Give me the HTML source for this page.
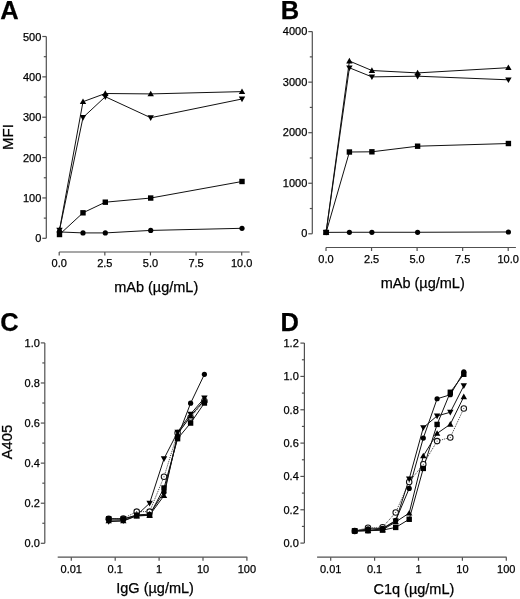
<!DOCTYPE html>
<html><head><meta charset="utf-8"><title>Figure</title>
<style>
html,body{margin:0;padding:0;background:#fff;}
body{width:520px;height:599px;overflow:hidden;}
svg{display:block;will-change:transform;}
#wrap{width:520px;height:599px;}
text{font-family:"Liberation Sans",sans-serif;fill:#000;stroke:#000;stroke-width:0.25px;}
</style></head><body>
<div id="wrap"><svg width="520" height="599" viewBox="0 0 520 599">
<rect width="520" height="599" fill="#fff"/>
<text x="0.30" y="19.00" font-size="25.5" text-anchor="start" font-weight="bold" >A</text>
<path d="M46.3 36.5V238.3" stroke="#505050" stroke-width="1.2" fill="none"/>
<path d="M42.3 238.30H46.3" stroke="#505050" stroke-width="1.2" fill="none"/>
<path d="M42.3 197.94H46.3" stroke="#505050" stroke-width="1.2" fill="none"/>
<path d="M42.3 157.58H46.3" stroke="#505050" stroke-width="1.2" fill="none"/>
<path d="M42.3 117.22H46.3" stroke="#505050" stroke-width="1.2" fill="none"/>
<path d="M42.3 76.86H46.3" stroke="#505050" stroke-width="1.2" fill="none"/>
<path d="M42.3 36.50H46.3" stroke="#505050" stroke-width="1.2" fill="none"/>
<path d="M43.8 218.12H46.3" stroke="#505050" stroke-width="1.2" fill="none"/>
<path d="M43.8 177.76H46.3" stroke="#505050" stroke-width="1.2" fill="none"/>
<path d="M43.8 137.40H46.3" stroke="#505050" stroke-width="1.2" fill="none"/>
<path d="M43.8 97.04H46.3" stroke="#505050" stroke-width="1.2" fill="none"/>
<path d="M43.8 56.68H46.3" stroke="#505050" stroke-width="1.2" fill="none"/>
<text x="41.30" y="242.40" font-size="11" text-anchor="end" font-weight="normal" >0</text>
<text x="41.30" y="202.04" font-size="11" text-anchor="end" font-weight="normal" >100</text>
<text x="41.30" y="161.68" font-size="11" text-anchor="end" font-weight="normal" >200</text>
<text x="41.30" y="121.32" font-size="11" text-anchor="end" font-weight="normal" >300</text>
<text x="41.30" y="80.96" font-size="11" text-anchor="end" font-weight="normal" >400</text>
<text x="41.30" y="40.60" font-size="11" text-anchor="end" font-weight="normal" >500</text>
<path d="M59.2 252.0H249.6" stroke="#505050" stroke-width="1.2" fill="none"/>
<path d="M59.20 252.0V255.5" stroke="#505050" stroke-width="1.2" fill="none"/>
<path d="M104.83 252.0V255.5" stroke="#505050" stroke-width="1.2" fill="none"/>
<path d="M150.45 252.0V255.5" stroke="#505050" stroke-width="1.2" fill="none"/>
<path d="M196.07 252.0V255.5" stroke="#505050" stroke-width="1.2" fill="none"/>
<path d="M241.70 252.0V255.5" stroke="#505050" stroke-width="1.2" fill="none"/>
<text x="59.20" y="267.40" font-size="11" text-anchor="middle" font-weight="normal" >0.0</text>
<text x="104.83" y="267.40" font-size="11" text-anchor="middle" font-weight="normal" >2.5</text>
<text x="150.45" y="267.40" font-size="11" text-anchor="middle" font-weight="normal" >5.0</text>
<text x="196.07" y="267.40" font-size="11" text-anchor="middle" font-weight="normal" >7.5</text>
<text x="241.70" y="267.40" font-size="11" text-anchor="middle" font-weight="normal" >10.0</text>
<text x="13.00" y="137.10" font-size="15" text-anchor="middle" font-weight="normal" transform="rotate(-90 13.0 137.1)">MFI</text>
<text x="156.20" y="292.20" font-size="14.5" text-anchor="middle" font-weight="normal" >mAb (&#181;g/mL)</text>
<path d="M59.50 231.94L83.00 232.91L105.30 232.91L150.70 230.41L242.00 228.31" stroke="#111" stroke-width="1" fill="none"/>
<path d="M59.50 234.52L83.00 212.81L105.30 202.19L150.70 198.04L242.00 181.49" stroke="#111" stroke-width="1" fill="none"/>
<path d="M59.50 230.12L83.00 117.52L105.30 96.73L150.70 117.72L242.00 98.99" stroke="#111" stroke-width="1" fill="none"/>
<path d="M59.50 229.92L83.00 101.70L105.30 93.50L150.70 93.91L242.00 91.61" stroke="#111" stroke-width="1" fill="none"/>
<circle cx="59.50" cy="231.94" r="2.60" fill="#000"/>
<circle cx="83.00" cy="232.91" r="2.60" fill="#000"/>
<circle cx="105.30" cy="232.91" r="2.60" fill="#000"/>
<circle cx="150.70" cy="230.41" r="2.60" fill="#000"/>
<circle cx="242.00" cy="228.31" r="2.60" fill="#000"/>
<rect x="56.80" y="231.82" width="5.40" height="5.40" fill="#000"/>
<rect x="80.30" y="210.11" width="5.40" height="5.40" fill="#000"/>
<rect x="102.60" y="199.49" width="5.40" height="5.40" fill="#000"/>
<rect x="148.00" y="195.34" width="5.40" height="5.40" fill="#000"/>
<rect x="239.30" y="178.79" width="5.40" height="5.40" fill="#000"/>
<path d="M59.50 233.32L62.70 227.72L56.30 227.72Z" fill="#000"/>
<path d="M83.00 120.72L86.20 115.12L79.80 115.12Z" fill="#000"/>
<path d="M105.30 99.93L108.50 94.33L102.10 94.33Z" fill="#000"/>
<path d="M150.70 120.92L153.90 115.32L147.50 115.32Z" fill="#000"/>
<path d="M242.00 102.19L245.20 96.59L238.80 96.59Z" fill="#000"/>
<path d="M59.50 226.72L62.70 232.32L56.30 232.32Z" fill="#000"/>
<path d="M83.00 98.50L86.20 104.10L79.80 104.10Z" fill="#000"/>
<path d="M105.30 90.30L108.50 95.90L102.10 95.90Z" fill="#000"/>
<path d="M150.70 90.71L153.90 96.31L147.50 96.31Z" fill="#000"/>
<path d="M242.00 88.41L245.20 94.01L238.80 94.01Z" fill="#000"/>
<text x="280.80" y="18.80" font-size="25.5" text-anchor="start" font-weight="bold" >B</text>
<path d="M312.3 31.6V233.8" stroke="#505050" stroke-width="1.2" fill="none"/>
<path d="M308.3 233.80H312.3" stroke="#505050" stroke-width="1.2" fill="none"/>
<path d="M308.3 183.25H312.3" stroke="#505050" stroke-width="1.2" fill="none"/>
<path d="M308.3 132.70H312.3" stroke="#505050" stroke-width="1.2" fill="none"/>
<path d="M308.3 82.15H312.3" stroke="#505050" stroke-width="1.2" fill="none"/>
<path d="M308.3 31.60H312.3" stroke="#505050" stroke-width="1.2" fill="none"/>
<path d="M309.8 208.53H312.3" stroke="#505050" stroke-width="1.2" fill="none"/>
<path d="M309.8 157.98H312.3" stroke="#505050" stroke-width="1.2" fill="none"/>
<path d="M309.8 107.42H312.3" stroke="#505050" stroke-width="1.2" fill="none"/>
<path d="M309.8 56.87H312.3" stroke="#505050" stroke-width="1.2" fill="none"/>
<text x="307.30" y="237.20" font-size="11" text-anchor="end" font-weight="normal" >0</text>
<text x="307.30" y="186.65" font-size="11" text-anchor="end" font-weight="normal" >1000</text>
<text x="307.30" y="136.10" font-size="11" text-anchor="end" font-weight="normal" >2000</text>
<text x="307.30" y="85.55" font-size="11" text-anchor="end" font-weight="normal" >3000</text>
<text x="307.30" y="35.00" font-size="11" text-anchor="end" font-weight="normal" >4000</text>
<path d="M326.0 247.5H515.9" stroke="#505050" stroke-width="1.2" fill="none"/>
<path d="M326.00 247.5V251.0" stroke="#505050" stroke-width="1.2" fill="none"/>
<path d="M371.55 247.5V251.0" stroke="#505050" stroke-width="1.2" fill="none"/>
<path d="M417.10 247.5V251.0" stroke="#505050" stroke-width="1.2" fill="none"/>
<path d="M462.65 247.5V251.0" stroke="#505050" stroke-width="1.2" fill="none"/>
<path d="M508.20 247.5V251.0" stroke="#505050" stroke-width="1.2" fill="none"/>
<text x="326.00" y="263.30" font-size="11" text-anchor="middle" font-weight="normal" >0.0</text>
<text x="371.55" y="263.30" font-size="11" text-anchor="middle" font-weight="normal" >2.5</text>
<text x="417.10" y="263.30" font-size="11" text-anchor="middle" font-weight="normal" >5.0</text>
<text x="462.65" y="263.30" font-size="11" text-anchor="middle" font-weight="normal" >7.5</text>
<text x="508.20" y="263.30" font-size="11" text-anchor="middle" font-weight="normal" >10.0</text>
<text x="422.70" y="288.20" font-size="14.5" text-anchor="middle" font-weight="normal" >mAb (&#181;g/mL)</text>
<path d="M326.10 232.38L349.40 232.28L371.90 232.28L417.60 232.28L508.40 231.98" stroke="#111" stroke-width="1" fill="none"/>
<path d="M326.10 232.38L349.40 152.01L371.90 151.81L417.60 146.20L508.40 143.52" stroke="#111" stroke-width="1" fill="none"/>
<path d="M326.10 232.28L349.40 67.79L371.90 76.89L417.60 76.19L508.40 79.82" stroke="#111" stroke-width="1" fill="none"/>
<path d="M326.10 232.28L349.40 61.02L371.90 70.52L417.60 72.90L508.40 67.69" stroke="#111" stroke-width="1" fill="none"/>
<circle cx="326.10" cy="232.38" r="2.60" fill="#000"/>
<circle cx="349.40" cy="232.28" r="2.60" fill="#000"/>
<circle cx="371.90" cy="232.28" r="2.60" fill="#000"/>
<circle cx="417.60" cy="232.28" r="2.60" fill="#000"/>
<circle cx="508.40" cy="231.98" r="2.60" fill="#000"/>
<rect x="323.40" y="229.68" width="5.40" height="5.40" fill="#000"/>
<rect x="346.70" y="149.31" width="5.40" height="5.40" fill="#000"/>
<rect x="369.20" y="149.11" width="5.40" height="5.40" fill="#000"/>
<rect x="414.90" y="143.50" width="5.40" height="5.40" fill="#000"/>
<rect x="505.70" y="140.82" width="5.40" height="5.40" fill="#000"/>
<path d="M326.10 235.48L329.30 229.88L322.90 229.88Z" fill="#000"/>
<path d="M349.40 70.99L352.60 65.39L346.20 65.39Z" fill="#000"/>
<path d="M371.90 80.09L375.10 74.49L368.70 74.49Z" fill="#000"/>
<path d="M417.60 79.39L420.80 73.79L414.40 73.79Z" fill="#000"/>
<path d="M508.40 83.02L511.60 77.42L505.20 77.42Z" fill="#000"/>
<path d="M326.10 229.08L329.30 234.68L322.90 234.68Z" fill="#000"/>
<path d="M349.40 57.82L352.60 63.42L346.20 63.42Z" fill="#000"/>
<path d="M371.90 67.32L375.10 72.92L368.70 72.92Z" fill="#000"/>
<path d="M417.60 69.70L420.80 75.30L414.40 75.30Z" fill="#000"/>
<path d="M508.40 64.49L511.60 70.09L505.20 70.09Z" fill="#000"/>
<text x="0.20" y="330.80" font-size="25.5" text-anchor="start" font-weight="bold" >C</text>
<path d="M44.8 342.9V543.3" stroke="#505050" stroke-width="1.2" fill="none"/>
<path d="M40.8 543.30H44.8" stroke="#505050" stroke-width="1.2" fill="none"/>
<path d="M40.8 503.22H44.8" stroke="#505050" stroke-width="1.2" fill="none"/>
<path d="M40.8 463.14H44.8" stroke="#505050" stroke-width="1.2" fill="none"/>
<path d="M40.8 423.06H44.8" stroke="#505050" stroke-width="1.2" fill="none"/>
<path d="M40.8 382.98H44.8" stroke="#505050" stroke-width="1.2" fill="none"/>
<path d="M40.8 342.90H44.8" stroke="#505050" stroke-width="1.2" fill="none"/>
<path d="M42.3 523.26H44.8" stroke="#505050" stroke-width="1.2" fill="none"/>
<path d="M42.3 483.18H44.8" stroke="#505050" stroke-width="1.2" fill="none"/>
<path d="M42.3 443.10H44.8" stroke="#505050" stroke-width="1.2" fill="none"/>
<path d="M42.3 403.02H44.8" stroke="#505050" stroke-width="1.2" fill="none"/>
<path d="M42.3 362.94H44.8" stroke="#505050" stroke-width="1.2" fill="none"/>
<text x="39.90" y="547.20" font-size="11" text-anchor="end" font-weight="normal" >0.0</text>
<text x="39.90" y="507.12" font-size="11" text-anchor="end" font-weight="normal" >0.2</text>
<text x="39.90" y="467.04" font-size="11" text-anchor="end" font-weight="normal" >0.4</text>
<text x="39.90" y="426.96" font-size="11" text-anchor="end" font-weight="normal" >0.6</text>
<text x="39.90" y="386.88" font-size="11" text-anchor="end" font-weight="normal" >0.8</text>
<text x="39.90" y="346.80" font-size="11" text-anchor="end" font-weight="normal" >1.0</text>
<path d="M57.7 557.2H247.3" stroke="#505050" stroke-width="1.2" fill="none"/>
<path d="M71.30 557.2V560.7" stroke="#505050" stroke-width="1.2" fill="none"/>
<path d="M115.20 557.2V560.7" stroke="#505050" stroke-width="1.2" fill="none"/>
<path d="M159.10 557.2V560.7" stroke="#505050" stroke-width="1.2" fill="none"/>
<path d="M203.00 557.2V560.7" stroke="#505050" stroke-width="1.2" fill="none"/>
<path d="M246.90 557.2V560.7" stroke="#505050" stroke-width="1.2" fill="none"/>
<text x="71.30" y="572.70" font-size="11" text-anchor="middle" font-weight="normal" >0.01</text>
<text x="115.20" y="572.70" font-size="11" text-anchor="middle" font-weight="normal" >0.1</text>
<text x="159.10" y="572.70" font-size="11" text-anchor="middle" font-weight="normal" >1</text>
<text x="203.00" y="572.70" font-size="11" text-anchor="middle" font-weight="normal" >10</text>
<text x="246.90" y="572.70" font-size="11" text-anchor="middle" font-weight="normal" >100</text>
<text x="12.00" y="442.00" font-size="14.8" text-anchor="middle" font-weight="normal" transform="rotate(-90 12.0 442)">A405</text>
<text x="155.10" y="593.30" font-size="14.5" text-anchor="middle" font-weight="normal" >IgG (&#181;g/mL)</text>
<path d="M108.70 518.85L123.30 518.45L136.70 511.64L149.60 511.64L164.00 476.77L177.60 433.08L190.60 417.45L204.40 401.02" stroke="#222" stroke-width="0.9" stroke-dasharray="1 1" fill="none"/>
<path d="M108.70 518.85L123.30 518.85L136.70 515.64L149.60 515.24L164.00 487.99L177.60 438.69L190.60 423.06L204.40 403.02" stroke="#111" stroke-width="1" fill="none"/>
<path d="M108.70 520.86L123.30 520.86L136.70 516.05L149.60 515.24L164.00 495.60L177.60 434.08L190.60 416.05L204.40 400.01" stroke="#111" stroke-width="1" fill="none"/>
<path d="M108.70 521.66L123.30 520.86L136.70 515.24L149.60 503.22L164.00 458.73L177.60 432.08L190.60 414.04L204.40 398.01" stroke="#111" stroke-width="1" fill="none"/>
<path d="M108.70 518.85L123.30 519.25L136.70 514.84L149.60 514.24L164.00 492.20L177.60 437.09L190.60 403.22L204.40 374.36" stroke="#111" stroke-width="1" fill="none"/>
<circle cx="108.70" cy="518.85" r="2.75" fill="#fff" stroke="#111" stroke-width="1.05"/>
<circle cx="108.70" cy="518.85" r="0.55" fill="#333"/>
<circle cx="123.30" cy="518.45" r="2.75" fill="#fff" stroke="#111" stroke-width="1.05"/>
<circle cx="123.30" cy="518.45" r="0.55" fill="#333"/>
<circle cx="136.70" cy="511.64" r="2.75" fill="#fff" stroke="#111" stroke-width="1.05"/>
<circle cx="136.70" cy="511.64" r="0.55" fill="#333"/>
<circle cx="149.60" cy="511.64" r="2.75" fill="#fff" stroke="#111" stroke-width="1.05"/>
<circle cx="149.60" cy="511.64" r="0.55" fill="#333"/>
<circle cx="164.00" cy="476.77" r="2.75" fill="#fff" stroke="#111" stroke-width="1.05"/>
<circle cx="164.00" cy="476.77" r="0.55" fill="#333"/>
<circle cx="177.60" cy="433.08" r="2.75" fill="#fff" stroke="#111" stroke-width="1.05"/>
<circle cx="177.60" cy="433.08" r="0.55" fill="#333"/>
<circle cx="190.60" cy="417.45" r="2.75" fill="#fff" stroke="#111" stroke-width="1.05"/>
<circle cx="190.60" cy="417.45" r="0.55" fill="#333"/>
<circle cx="204.40" cy="401.02" r="2.75" fill="#fff" stroke="#111" stroke-width="1.05"/>
<circle cx="204.40" cy="401.02" r="0.55" fill="#333"/>
<rect x="106.00" y="516.15" width="5.40" height="5.40" fill="#000"/>
<rect x="120.60" y="516.15" width="5.40" height="5.40" fill="#000"/>
<rect x="134.00" y="512.94" width="5.40" height="5.40" fill="#000"/>
<rect x="146.90" y="512.54" width="5.40" height="5.40" fill="#000"/>
<rect x="161.30" y="485.29" width="5.40" height="5.40" fill="#000"/>
<rect x="174.90" y="435.99" width="5.40" height="5.40" fill="#000"/>
<rect x="187.90" y="420.36" width="5.40" height="5.40" fill="#000"/>
<rect x="201.70" y="400.32" width="5.40" height="5.40" fill="#000"/>
<path d="M108.70 517.66L111.90 523.26L105.50 523.26Z" fill="#000"/>
<path d="M123.30 517.66L126.50 523.26L120.10 523.26Z" fill="#000"/>
<path d="M136.70 512.85L139.90 518.45L133.50 518.45Z" fill="#000"/>
<path d="M149.60 512.04L152.80 517.64L146.40 517.64Z" fill="#000"/>
<path d="M164.00 492.40L167.20 498.00L160.80 498.00Z" fill="#000"/>
<path d="M177.60 430.88L180.80 436.48L174.40 436.48Z" fill="#000"/>
<path d="M190.60 412.85L193.80 418.45L187.40 418.45Z" fill="#000"/>
<path d="M204.40 396.81L207.60 402.41L201.20 402.41Z" fill="#000"/>
<path d="M108.70 524.86L111.90 519.26L105.50 519.26Z" fill="#000"/>
<path d="M123.30 524.06L126.50 518.46L120.10 518.46Z" fill="#000"/>
<path d="M136.70 518.44L139.90 512.84L133.50 512.84Z" fill="#000"/>
<path d="M149.60 506.42L152.80 500.82L146.40 500.82Z" fill="#000"/>
<path d="M164.00 461.93L167.20 456.33L160.80 456.33Z" fill="#000"/>
<path d="M177.60 435.28L180.80 429.68L174.40 429.68Z" fill="#000"/>
<path d="M190.60 417.24L193.80 411.64L187.40 411.64Z" fill="#000"/>
<path d="M204.40 401.21L207.60 395.61L201.20 395.61Z" fill="#000"/>
<circle cx="108.70" cy="518.85" r="2.60" fill="#000"/>
<circle cx="123.30" cy="519.25" r="2.60" fill="#000"/>
<circle cx="136.70" cy="514.84" r="2.60" fill="#000"/>
<circle cx="149.60" cy="514.24" r="2.60" fill="#000"/>
<circle cx="164.00" cy="492.20" r="2.60" fill="#000"/>
<circle cx="177.60" cy="437.09" r="2.60" fill="#000"/>
<circle cx="190.60" cy="403.22" r="2.60" fill="#000"/>
<circle cx="204.40" cy="374.36" r="2.60" fill="#000"/>
<text x="280.40" y="330.90" font-size="25.5" text-anchor="start" font-weight="bold" >D</text>
<path d="M304.4 343.1V543.1" stroke="#505050" stroke-width="1.2" fill="none"/>
<path d="M300.4 543.10H304.4" stroke="#505050" stroke-width="1.2" fill="none"/>
<path d="M300.4 509.77H304.4" stroke="#505050" stroke-width="1.2" fill="none"/>
<path d="M300.4 476.43H304.4" stroke="#505050" stroke-width="1.2" fill="none"/>
<path d="M300.4 443.10H304.4" stroke="#505050" stroke-width="1.2" fill="none"/>
<path d="M300.4 409.77H304.4" stroke="#505050" stroke-width="1.2" fill="none"/>
<path d="M300.4 376.43H304.4" stroke="#505050" stroke-width="1.2" fill="none"/>
<path d="M300.4 343.10H304.4" stroke="#505050" stroke-width="1.2" fill="none"/>
<path d="M301.9 526.43H304.4" stroke="#505050" stroke-width="1.2" fill="none"/>
<path d="M301.9 493.10H304.4" stroke="#505050" stroke-width="1.2" fill="none"/>
<path d="M301.9 459.77H304.4" stroke="#505050" stroke-width="1.2" fill="none"/>
<path d="M301.9 426.43H304.4" stroke="#505050" stroke-width="1.2" fill="none"/>
<path d="M301.9 393.10H304.4" stroke="#505050" stroke-width="1.2" fill="none"/>
<path d="M301.9 359.77H304.4" stroke="#505050" stroke-width="1.2" fill="none"/>
<text x="298.80" y="547.00" font-size="11" text-anchor="end" font-weight="normal" >0.0</text>
<text x="298.80" y="513.67" font-size="11" text-anchor="end" font-weight="normal" >0.2</text>
<text x="298.80" y="480.33" font-size="11" text-anchor="end" font-weight="normal" >0.4</text>
<text x="298.80" y="447.00" font-size="11" text-anchor="end" font-weight="normal" >0.6</text>
<text x="298.80" y="413.67" font-size="11" text-anchor="end" font-weight="normal" >0.8</text>
<text x="298.80" y="380.33" font-size="11" text-anchor="end" font-weight="normal" >1.0</text>
<text x="298.80" y="347.00" font-size="11" text-anchor="end" font-weight="normal" >1.2</text>
<path d="M317.1 557.2H506.6" stroke="#505050" stroke-width="1.2" fill="none"/>
<path d="M330.70 557.2V560.7" stroke="#505050" stroke-width="1.2" fill="none"/>
<path d="M374.60 557.2V560.7" stroke="#505050" stroke-width="1.2" fill="none"/>
<path d="M418.50 557.2V560.7" stroke="#505050" stroke-width="1.2" fill="none"/>
<path d="M462.40 557.2V560.7" stroke="#505050" stroke-width="1.2" fill="none"/>
<path d="M506.30 557.2V560.7" stroke="#505050" stroke-width="1.2" fill="none"/>
<text x="330.70" y="572.70" font-size="11" text-anchor="middle" font-weight="normal" >0.01</text>
<text x="374.60" y="572.70" font-size="11" text-anchor="middle" font-weight="normal" >0.1</text>
<text x="418.50" y="572.70" font-size="11" text-anchor="middle" font-weight="normal" >1</text>
<text x="462.40" y="572.70" font-size="11" text-anchor="middle" font-weight="normal" >10</text>
<text x="506.30" y="572.70" font-size="11" text-anchor="middle" font-weight="normal" >100</text>
<text x="413.90" y="593.60" font-size="14.5" text-anchor="middle" font-weight="normal" >C1q (&#181;g/mL)</text>
<path d="M354.70 530.93L368.00 527.77L382.60 527.27L395.70 512.43L409.20 481.93L423.30 464.27L437.10 441.10L450.30 437.43L463.80 408.43" stroke="#222" stroke-width="0.9" stroke-dasharray="1 1" fill="none"/>
<path d="M354.70 530.93L368.00 530.60L382.60 529.77L395.70 521.93L409.20 513.10L423.30 455.93L437.10 433.43L450.30 424.27L463.80 396.77" stroke="#111" stroke-width="1" fill="none"/>
<path d="M354.70 530.93L368.00 530.77L382.60 530.10L395.70 527.43L409.20 519.27L423.30 468.43L437.10 424.43L450.30 392.27L463.80 374.27" stroke="#111" stroke-width="1" fill="none"/>
<path d="M354.70 530.93L368.00 530.43L382.60 528.93L395.70 520.93L409.20 478.93L423.30 427.60L437.10 415.93L450.30 412.27L463.80 385.77" stroke="#111" stroke-width="1" fill="none"/>
<path d="M354.70 530.93L368.00 528.93L382.60 528.43L395.70 520.43L409.20 488.43L423.30 438.10L437.10 398.77L450.30 394.77L463.80 371.77" stroke="#111" stroke-width="1" fill="none"/>
<circle cx="354.70" cy="530.93" r="2.75" fill="#fff" stroke="#111" stroke-width="1.05"/>
<circle cx="354.70" cy="530.93" r="0.55" fill="#333"/>
<circle cx="368.00" cy="527.77" r="2.75" fill="#fff" stroke="#111" stroke-width="1.05"/>
<circle cx="368.00" cy="527.77" r="0.55" fill="#333"/>
<circle cx="382.60" cy="527.27" r="2.75" fill="#fff" stroke="#111" stroke-width="1.05"/>
<circle cx="382.60" cy="527.27" r="0.55" fill="#333"/>
<circle cx="395.70" cy="512.43" r="2.75" fill="#fff" stroke="#111" stroke-width="1.05"/>
<circle cx="395.70" cy="512.43" r="0.55" fill="#333"/>
<circle cx="409.20" cy="481.93" r="2.75" fill="#fff" stroke="#111" stroke-width="1.05"/>
<circle cx="409.20" cy="481.93" r="0.55" fill="#333"/>
<circle cx="423.30" cy="464.27" r="2.75" fill="#fff" stroke="#111" stroke-width="1.05"/>
<circle cx="423.30" cy="464.27" r="0.55" fill="#333"/>
<circle cx="437.10" cy="441.10" r="2.75" fill="#fff" stroke="#111" stroke-width="1.05"/>
<circle cx="437.10" cy="441.10" r="0.55" fill="#333"/>
<circle cx="450.30" cy="437.43" r="2.75" fill="#fff" stroke="#111" stroke-width="1.05"/>
<circle cx="450.30" cy="437.43" r="0.55" fill="#333"/>
<circle cx="463.80" cy="408.43" r="2.75" fill="#fff" stroke="#111" stroke-width="1.05"/>
<circle cx="463.80" cy="408.43" r="0.55" fill="#333"/>
<path d="M354.70 527.73L357.90 533.33L351.50 533.33Z" fill="#000"/>
<path d="M368.00 527.40L371.20 533.00L364.80 533.00Z" fill="#000"/>
<path d="M382.60 526.57L385.80 532.17L379.40 532.17Z" fill="#000"/>
<path d="M395.70 518.73L398.90 524.33L392.50 524.33Z" fill="#000"/>
<path d="M409.20 509.90L412.40 515.50L406.00 515.50Z" fill="#000"/>
<path d="M423.30 452.73L426.50 458.33L420.10 458.33Z" fill="#000"/>
<path d="M437.10 430.23L440.30 435.83L433.90 435.83Z" fill="#000"/>
<path d="M450.30 421.07L453.50 426.67L447.10 426.67Z" fill="#000"/>
<path d="M463.80 393.57L467.00 399.17L460.60 399.17Z" fill="#000"/>
<rect x="352.00" y="528.23" width="5.40" height="5.40" fill="#000"/>
<rect x="365.30" y="528.07" width="5.40" height="5.40" fill="#000"/>
<rect x="379.90" y="527.40" width="5.40" height="5.40" fill="#000"/>
<rect x="393.00" y="524.73" width="5.40" height="5.40" fill="#000"/>
<rect x="406.50" y="516.57" width="5.40" height="5.40" fill="#000"/>
<rect x="420.60" y="465.73" width="5.40" height="5.40" fill="#000"/>
<rect x="434.40" y="421.73" width="5.40" height="5.40" fill="#000"/>
<rect x="447.60" y="389.57" width="5.40" height="5.40" fill="#000"/>
<rect x="461.10" y="371.57" width="5.40" height="5.40" fill="#000"/>
<path d="M354.70 534.13L357.90 528.53L351.50 528.53Z" fill="#000"/>
<path d="M368.00 533.63L371.20 528.03L364.80 528.03Z" fill="#000"/>
<path d="M382.60 532.13L385.80 526.53L379.40 526.53Z" fill="#000"/>
<path d="M395.70 524.13L398.90 518.53L392.50 518.53Z" fill="#000"/>
<path d="M409.20 482.13L412.40 476.53L406.00 476.53Z" fill="#000"/>
<path d="M423.30 430.80L426.50 425.20L420.10 425.20Z" fill="#000"/>
<path d="M437.10 419.13L440.30 413.53L433.90 413.53Z" fill="#000"/>
<path d="M450.30 415.47L453.50 409.87L447.10 409.87Z" fill="#000"/>
<path d="M463.80 388.97L467.00 383.37L460.60 383.37Z" fill="#000"/>
<circle cx="354.70" cy="530.93" r="2.60" fill="#000"/>
<circle cx="368.00" cy="528.93" r="2.60" fill="#000"/>
<circle cx="382.60" cy="528.43" r="2.60" fill="#000"/>
<circle cx="395.70" cy="520.43" r="2.60" fill="#000"/>
<circle cx="409.20" cy="488.43" r="2.60" fill="#000"/>
<circle cx="423.30" cy="438.10" r="2.60" fill="#000"/>
<circle cx="437.10" cy="398.77" r="2.60" fill="#000"/>
<circle cx="450.30" cy="394.77" r="2.60" fill="#000"/>
<circle cx="463.80" cy="371.77" r="2.60" fill="#000"/>
</svg></div>
</body></html>
